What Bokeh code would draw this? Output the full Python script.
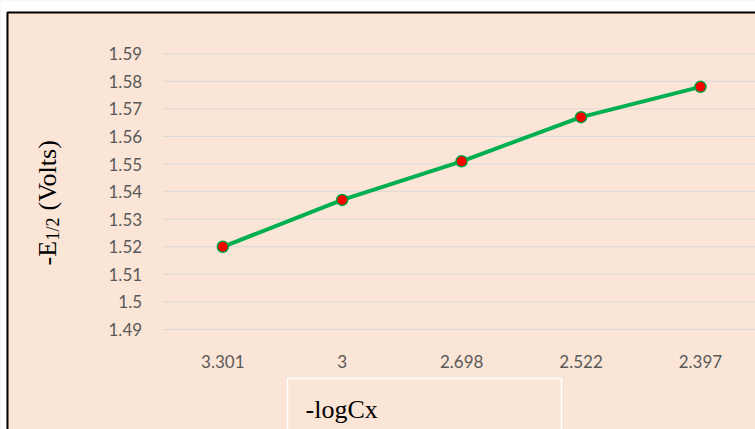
from bokeh.plotting import figure
from bokeh.models import Range1d, Label, BoxAnnotation
from bokeh.core.properties import value
from bokeh.embed import file_html
from bokeh.resources import INLINE
import math

# ---- data ----
categories = ["3.301", "3", "2.698", "2.522", "2.397"]
values = [1.520, 1.537, 1.551, 1.567, 1.578]
y_ticks = [1.49, 1.50, 1.51, 1.52, 1.53, 1.54, 1.55, 1.56, 1.57, 1.58, 1.59]
y_tick_labels = ["1.49", "1.5", "1.51", "1.52", "1.53", "1.54", "1.55", "1.56", "1.57", "1.58", "1.59"]
x_title = "-logCx"
y_title_main = "-E"
y_title_sub = "1/2"
y_title_rest = "(Volts)"

BG = "#FBE5D6"
GRID = "#D9D9D9"
TICK = "#595959"
xpos = list(range(len(categories)))

# The plotting frame spans the whole picture; scales are set so that the
# category band starts at the left edge of the chart's plot area.
p = figure(width=755, height=429, output_backend="svg", toolbar_location=None,
           x_range=Range1d(-1.8617, 4.4611), y_range=Range1d(1.453735, 1.60931),
           min_border=0)
p.axis.visible = False
p.grid.visible = False
p.background_fill_color = BG
p.border_fill_color = BG
p.outline_line_color = None

# horizontal gridlines (plot area starts at the left edge of the first category band)
band_left = xpos[0] - 0.5
band_right = xpos[-1] + 0.5
p.segment(x0=[band_left] * len(y_ticks), x1=[band_right] * len(y_ticks),
          y0=y_ticks, y1=y_ticks, line_color=GRID, line_width=1)

# y tick labels
p.text(x=[band_left] * len(y_ticks), y=y_ticks, text=y_tick_labels,
       x_offset=-21, text_align="right", text_baseline="middle",
       text_font=value("Lato"), text_font_size="17px", text_color=TICK)
# x tick labels
p.text(x=xpos, y=[y_ticks[0]] * len(xpos), text=categories,
       y_offset=32, text_align="center", text_baseline="middle",
       text_font=value("Lato"), text_font_size="17px", text_color=TICK)

# series
p.line(xpos, values, line_color="#00B050", line_width=4)
p.scatter(xpos, values, size=11, fill_color="#FF0000", line_color="#00A040", line_width=1.5)

# white page margin and black chart border
def cbox(**kw):
    return BoxAnnotation(left_units="canvas", right_units="canvas",
                         top_units="canvas", bottom_units="canvas", **kw)

p.add_layout(cbox(left=0, right=755, top=0, bottom=11, fill_color="white", fill_alpha=1,
                  line_color=None))
p.add_layout(cbox(left=0, right=6, top=0, bottom=429, fill_color="white", fill_alpha=1,
                  line_color=None))
p.add_layout(cbox(left=7, right=800, top=12, bottom=480, fill_alpha=0,
                  line_color="black", line_alpha=1, line_width=2))
# x title box
p.add_layout(cbox(left=287, right=561, top=378, bottom=470, fill_alpha=0,
                  line_color="white", line_alpha=1, line_width=1.5))

p.add_layout(Label(x=305, y=409, x_units="canvas", y_units="canvas", text=x_title,
                   text_font="Liberation Serif", text_font_size="26px", text_color="black",
                   text_align="left", text_baseline="alphabetic"))

# y title pieces (rotated, reading upward)
p.add_layout(Label(x=47, y=265, x_units="canvas", y_units="canvas", text=y_title_main, angle=math.pi / 2,
                   text_font="Liberation Serif", text_font_size="26px", text_color="black",
                   text_align="left", text_baseline="alphabetic"))
p.add_layout(Label(x=52, y=240, x_units="canvas", y_units="canvas", text=y_title_sub, angle=math.pi / 2,
                   text_font="Liberation Serif", text_font_size="18px", text_color="black",
                   text_align="left", text_baseline="alphabetic"))
p.add_layout(Label(x=47, y=210, x_units="canvas", y_units="canvas", text=y_title_rest, angle=math.pi / 2,
                   text_font="Liberation Serif", text_font_size="26px", text_color="black",
                   text_align="left", text_baseline="alphabetic"))

open("out.html", "w").write(file_html(p, INLINE))
